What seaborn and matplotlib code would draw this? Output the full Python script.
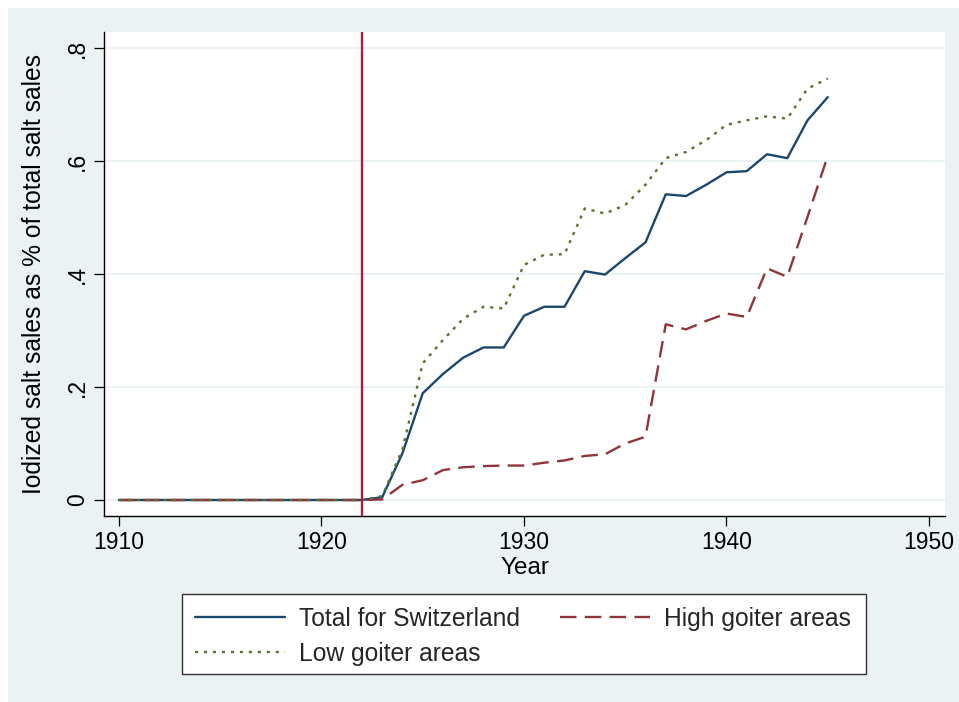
import numpy as np
import pandas as pd
import matplotlib
matplotlib.use("Agg")
import matplotlib.pyplot as plt
import seaborn as sns
from matplotlib.patches import Rectangle

years = list(range(1910, 1946))
total = [0.0] * 13 + [0.005, 0.083, 0.189, 0.223, 0.252, 0.270, 0.270, 0.326, 0.342,
                      0.342, 0.405, 0.399, 0.428, 0.456, 0.541, 0.538, 0.558, 0.580,
                      0.582, 0.612, 0.605, 0.672, 0.713]
high = [0.0] * 13 + [0.001, 0.027, 0.035, 0.053, 0.058, 0.060, 0.061, 0.061, 0.066,
                     0.070, 0.078, 0.081, 0.100, 0.112, 0.311, 0.302, 0.317, 0.330,
                     0.324, 0.410, 0.395, 0.501, 0.609]
low = [0.0] * 13 + [0.007, 0.090, 0.242, 0.283, 0.321, 0.342, 0.339, 0.416, 0.434,
                    0.435, 0.516, 0.507, 0.522, 0.558, 0.605, 0.616, 0.637, 0.664,
                    0.672, 0.679, 0.675, 0.728, 0.746]
series_names = ["Total for Switzerland", "High goiter areas", "Low goiter areas"]
event_year = 1922
y_ticks = [0, 0.2, 0.4, 0.6, 0.8]
y_ticklabels = ["0", ".2", ".4", ".6", ".8"]
x_ticks = [1910, 1920, 1930, 1940, 1950]

df = pd.concat([
    pd.DataFrame({"Year": years, "value": total, "series": series_names[0]}),
    pd.DataFrame({"Year": years, "value": high, "series": series_names[1]}),
    pd.DataFrame({"Year": years, "value": low, "series": series_names[2]}),
])

sns.set_theme(style="white")
plt.rcParams["font.family"] = ["Liberation Sans", "DejaVu Sans"]

W, H = 959, 702
fig = plt.figure(figsize=(W / 100, H / 100), dpi=100)
fig.patch.set_facecolor("white")
bgc = "#EAF2F3"
fig.patches.append(Rectangle((8 / W, 0), 1 - 8 / W, 1 - 8 / H, transform=fig.transFigure,
                             facecolor=bgc, edgecolor="none", zorder=-10))

ax = fig.add_axes([104 / W, 1 - 516 / H, (945 - 104) / W, (516 - 32) / H])
ax.set_facecolor("white")

palette = {series_names[0]: "#1A476F", series_names[1]: "#90353B", series_names[2]: "#55752F"}
dashes = {series_names[0]: "", series_names[1]: (7, 3.5), series_names[2]: (1.3, 2.5)}
sns.lineplot(data=df, x="Year", y="value", hue="series", style="series",
             palette=palette, dashes=dashes, linewidth=1.7, ax=ax, legend=False,
             hue_order=series_names, style_order=series_names)

ax.axvline(event_year, color="#C8102E", lw=1.6, zorder=5)

ax.set_xlim(1909.26, 1950.79)
ax.set_ylim(-0.0283, 0.8283)
ax.set_yticks(y_ticks)
ax.set_yticklabels(y_ticklabels, rotation=90, va="center")
ax.set_xticks(x_ticks)
ax.yaxis.grid(True, color=bgc, lw=1.5)
ax.set_axisbelow(True)
for s in ["top", "right"]:
    ax.spines[s].set_visible(False)
for s in ["left", "bottom"]:
    ax.spines[s].set_color("black")
    ax.spines[s].set_linewidth(1.0)
ax.tick_params(axis="both", direction="out", length=7, width=0.9, color="black",
               labelsize=16.5, labelcolor="black", bottom=True, left=True, pad=4)
ax.set_xlabel("Year", fontsize=17.5, color="black", labelpad=2)
ax.set_ylabel("Iodized salt sales as % of total salt sales", fontsize=17.7, color="black")
ax.yaxis.set_label_coords((46 - 104) / (945 - 104), 0.5)

lines = ax.get_lines()
handles = [lines[0], lines[2], lines[1]]
labels = [series_names[0], series_names[2], series_names[1]]
fig.patches.append(Rectangle((182 / W, 1 - 674 / H), (866 - 182) / W, 80 / H,
                             transform=fig.transFigure, facecolor="white",
                             edgecolor="#333333", lw=1.0, zorder=1))
fs = 17.7
px = fs * 100 / 72
leg = fig.legend(handles, labels, ncol=2, loc="upper left",
                 bbox_to_anchor=(182 / W, 1 - 594 / H),
                 fontsize=fs, frameon=False,
                 handlelength=90 / px, handletextpad=14 / px, borderaxespad=0,
                 labelspacing=0.46, borderpad=0.52, columnspacing=40 / px)
leg.set_zorder(2)

fig.savefig("out.png", dpi=100, facecolor=fig.get_facecolor())
